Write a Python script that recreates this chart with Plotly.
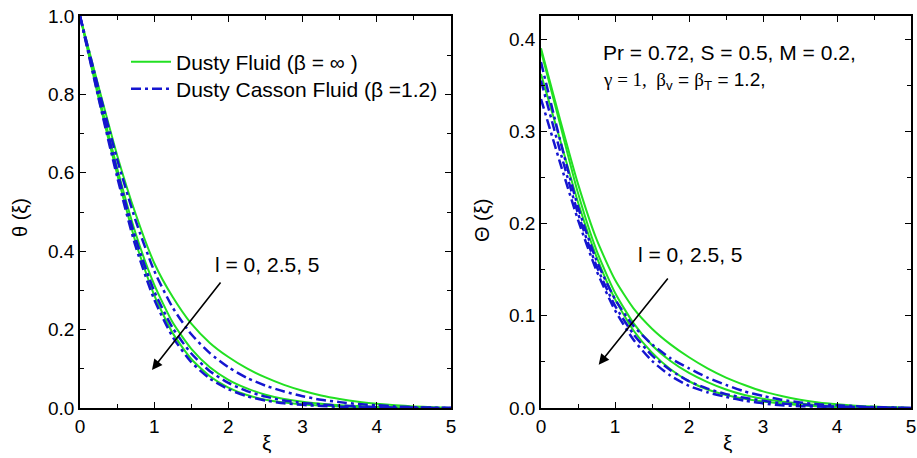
import plotly.graph_objects as go

xi = [0, 0.25, 0.5, 0.75, 1.0, 1.25, 1.5, 1.75, 2.0, 2.25, 2.5, 2.75, 3.0, 3.25, 3.5, 3.75, 4.0, 4.25, 4.5, 4.75, 5.0]

# Left panel: theta(xi)
theta_dusty_l0 = [1.0, 0.82, 0.645, 0.495, 0.37, 0.283, 0.215, 0.166, 0.13, 0.101, 0.078, 0.059, 0.044, 0.032, 0.023, 0.016, 0.011, 0.007, 0.004, 0.002, 0.0]
theta_dusty_l25 = [1.0, 0.80, 0.612, 0.445, 0.315, 0.218, 0.151, 0.104, 0.072, 0.05, 0.034, 0.023, 0.016, 0.011, 0.007, 0.005, 0.003, 0.002, 0.001, 0.0005, 0.0]
theta_dusty_l5 = [1.0, 0.79, 0.597, 0.423, 0.288, 0.191, 0.125, 0.081, 0.052, 0.033, 0.021, 0.014, 0.009, 0.006, 0.004, 0.002, 0.001, 0.001, 0.0, 0.0, 0.0]
theta_casson_l0 = [1.0, 0.815, 0.635, 0.478, 0.35, 0.256, 0.188, 0.14, 0.104, 0.077, 0.057, 0.042, 0.03, 0.021, 0.015, 0.01, 0.007, 0.004, 0.002, 0.001, 0.0]
theta_casson_l25 = [1.0, 0.80, 0.605, 0.432, 0.298, 0.204, 0.139, 0.094, 0.064, 0.043, 0.029, 0.019, 0.013, 0.009, 0.006, 0.004, 0.002, 0.001, 0.001, 0.0, 0.0]
theta_casson_l5 = [1.0, 0.79, 0.59, 0.412, 0.277, 0.181, 0.117, 0.075, 0.048, 0.03, 0.019, 0.012, 0.008, 0.005, 0.003, 0.002, 0.001, 0.0, 0.0, 0.0, 0.0]

# Right panel: Theta(xi)
Theta_dusty_l0 = [0.39, 0.315, 0.243, 0.183, 0.139, 0.108, 0.086, 0.069, 0.055, 0.043, 0.033, 0.025, 0.018, 0.013, 0.009, 0.006, 0.004, 0.0025, 0.0015, 0.0007, 0.0]
Theta_dusty_l25 = [0.387, 0.31, 0.233, 0.171, 0.125, 0.092, 0.068, 0.051, 0.038, 0.028, 0.02, 0.014, 0.01, 0.007, 0.005, 0.003, 0.002, 0.001, 0.0007, 0.0003, 0.0]
Theta_dusty_l5 = [0.362, 0.293, 0.223, 0.164, 0.118, 0.084, 0.06, 0.042, 0.029, 0.02, 0.014, 0.01, 0.007, 0.005, 0.003, 0.002, 0.001, 0.0007, 0.0004, 0.0002, 0.0]
Theta_casson_l0 = [0.375, 0.293, 0.218, 0.16, 0.118, 0.089, 0.069, 0.054, 0.043, 0.033, 0.025, 0.018, 0.013, 0.009, 0.006, 0.004, 0.003, 0.002, 0.001, 0.0005, 0.0]
Theta_casson_l25 = [0.355, 0.281, 0.211, 0.154, 0.111, 0.08, 0.057, 0.041, 0.029, 0.021, 0.015, 0.011, 0.008, 0.005, 0.004, 0.002, 0.0015, 0.001, 0.0005, 0.0002, 0.0]
Theta_casson_l5 = [0.335, 0.268, 0.204, 0.149, 0.106, 0.074, 0.051, 0.035, 0.024, 0.017, 0.012, 0.008, 0.005, 0.003, 0.002, 0.0015, 0.001, 0.0005, 0.0002, 0.0001, 0.0]

x_ticks = [0, 1, 2, 3, 4, 5]
left_y_ticks = [0.0, 0.2, 0.4, 0.6, 0.8, 1.0]
right_y_ticks = [0.0, 0.1, 0.2, 0.3, 0.4]

legend_dusty = "Dusty Fluid (β = ∞ )"
legend_casson = "Dusty Casson Fluid (β =1.2)"
l_label = "l = 0, 2.5, 5"

GREEN = "#22e022"
BLUE = "#1515d0"
FONT = "Liberation Sans, Arial, sans-serif"
SERIF = "Liberation Serif, Times New Roman, serif"

fig = go.Figure()

def add(x, y, xa, ya, color, dash, width, name, show, legend):
    fig.add_trace(go.Scatter(
        x=x, y=y, xaxis=xa, yaxis=ya, mode="lines",
        line=dict(color=color, dash=dash, width=width, shape="spline", smoothing=0.6),
        name=name, legendgroup=name, showlegend=show, legend=legend))

dd = "10px,4px,3px,4px"
for i, s in enumerate([theta_dusty_l0, theta_dusty_l25, theta_dusty_l5]):
    add(xi, s, "x", "y", GREEN, "solid", 2, legend_dusty, i == 0, "legend")
for i, s in enumerate([theta_casson_l0, theta_casson_l25, theta_casson_l5]):
    add(xi, s, "x", "y", BLUE, dd, 2.5, legend_casson, i == 0, "legend2")
for s in [Theta_dusty_l0, Theta_dusty_l25, Theta_dusty_l5]:
    add(xi, s, "x2", "y2", GREEN, "solid", 2, legend_dusty, False, "legend")
for s in [Theta_casson_l0, Theta_casson_l25, Theta_casson_l5]:
    add(xi, s, "x2", "y2", BLUE, dd, 2.5, legend_casson, False, "legend2")

W, H = 917, 458
ydom = [1 - 408 / H, 1 - 16 / H]

axis_common = dict(showline=True, linecolor="black", linewidth=1.5, mirror="ticks",
                   ticks="inside", ticklen=6, tickwidth=1.2, tickcolor="black",
                   showgrid=False, zeroline=False, automargin=False,
                   tickfont=dict(family=FONT, size=19, color="black"))

legend_common = dict(xanchor="left", yanchor="middle", bgcolor="rgba(0,0,0,0)",
                     font=dict(family=FONT, size=21, color="black"), itemwidth=40)

fig.update_layout(
    width=W, height=H, margin=dict(l=0, r=0, t=0, b=0, autoexpand=False),
    paper_bgcolor="white", plot_bgcolor="white",
    font=dict(family=FONT, color="black"),
    xaxis=dict(domain=[80 / W, 451 / W], range=[0, 5], tickvals=x_ticks, anchor="y",
               minor=dict(ticks="inside", dtick=0.5, ticklen=4, tickcolor="black"), **axis_common),
    yaxis=dict(domain=ydom, range=[0, 1], tickvals=left_y_ticks, tickformat=".1f", anchor="x",
               minor=dict(ticks="inside", dtick=0.1, ticklen=4, tickcolor="black"), **axis_common),
    xaxis2=dict(domain=[541 / W, 911 / W], range=[0, 5], tickvals=x_ticks, anchor="y2",
                minor=dict(ticks="inside", dtick=0.5, ticklen=4, tickcolor="black"), **axis_common),
    yaxis2=dict(domain=ydom, range=[0, 0.425], tickvals=right_y_ticks, tickformat=".1f", anchor="x2",
                minor=dict(ticks="inside", dtick=0.05, ticklen=4, tickcolor="black"), **axis_common),
    legend=dict(x=126 / W, y=1 - 62 / H, **legend_common),
    legend2=dict(x=126 / W, y=1 - 89 / H, **legend_common),
)

ann = []
def text_ann(text, x, y, size=21, xanchor="center", angle=0, xref="paper", yref="paper"):
    ann.append(dict(text=text, xref=xref, yref=yref, x=x, y=y, xanchor=xanchor, yanchor="middle",
                    textangle=angle, showarrow=False, font=dict(family=FONT, size=size, color="black")))

# axis titles
text_ann("θ (ξ)", 20 / W, 1 - 218 / H, size=20, angle=-90)
text_ann("Θ (ξ)", 482 / W, 1 - 221 / H, size=20, angle=-90)
text_ann("ξ", 266 / W, 1 - 442 / H)
text_ann("ξ", 727 / W, 1 - 442 / H)
# l labels
text_ann(l_label, 1.79, 0.365, xanchor="left", xref="x", yref="y")
text_ann(l_label, 1.28, 0.166, xanchor="left", xref="x2", yref="y2")
# arrows
ann.append(dict(x=0.97, y=0.097, ax=1.91, ay=0.324, xref="x", yref="y", axref="x", ayref="y",
                showarrow=True, arrowhead=2, arrowsize=1.3, arrowwidth=1.6, arrowcolor="black", text=""))
ann.append(dict(x=0.78, y=0.047, ax=1.73, ay=0.142, xref="x2", yref="y2", axref="x2", ayref="y2",
                showarrow=True, arrowhead=2, arrowsize=1.3, arrowwidth=1.6, arrowcolor="black", text=""))
# parameters text
text_ann("Pr = 0.72, S = 0.5, M = 0.2,", 601 / W, 1 - 52 / H, xanchor="left")
text_ann("<span style='font-family:" + SERIF + "'>γ = 1,  β</span><sub>v</sub> = "
         "<span style='font-family:" + SERIF + "'>β</span><sub>T</sub> = 1.2,",
         601 / W, 1 - 81 / H, size=19, xanchor="left")
fig.update_layout(annotations=ann)

fig.write_html("out.html", config={"displayModeBar": False},
               post_script="document.body.style.margin='0';document.body.style.padding='0';")
